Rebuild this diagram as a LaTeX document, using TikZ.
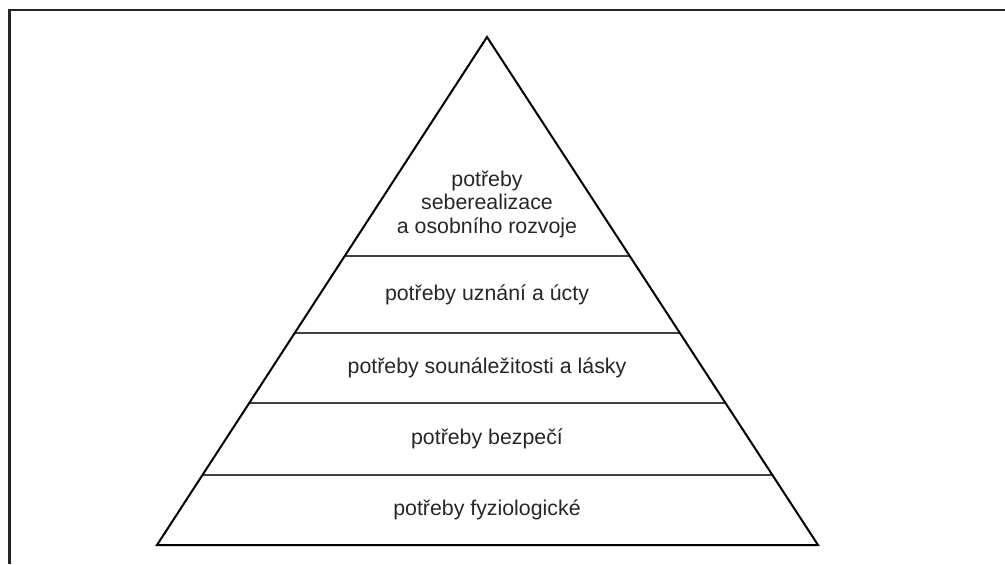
\documentclass[tikz,border=0pt]{standalone}
\usepackage{fontspec}
\setmainfont{Liberation Sans}
\usetikzlibrary{calc}
\begin{document}
\begin{tikzpicture}[x=0.75pt,y=-0.75pt,
  frameline/.style={line width=1.6pt,black!85},
  outline/.style={line width=1.5pt,black,line join=miter},
  divider/.style={line width=0.8pt,black!75},
  label/.style={font=\fontsize{16}{17.6}\selectfont,align=center,text=black!85,inner sep=0pt}]
  \useasboundingbox (0,0) rectangle (1005,564);
  % open frame: top and left edges only
  \draw[frameline] (9.5,564) -- (9.5,10) -- (1005,10);
  % pyramid outline
  \coordinate (apex) at (487,37);
  \coordinate (bl) at (157,545);
  \coordinate (br) at (818,545);
  % level dividers
  \foreach \y/\n in {256/a,333/b,403/c,475/d}{
    \pgfmathsetmacro{\t}{(\y-37)/(545-37)}
    \coordinate (l\n) at ($(apex)!\t!(bl)$);
    \coordinate (r\n) at ($(apex)!\t!(br)$);
    \draw[divider] (l\n) -- (r\n);
  }
  \draw[outline] (apex) -- (bl) -- (br) -- cycle;
  % level labels
  \node[label] (top) at (487,204) {potřeby\\seberealizace\\a osobního rozvoje};
  \node[label] (esteem) at (487,295) {potřeby uznání a úcty};
  \node[label] (love) at (487,368) {potřeby sounáležitosti a lásky};
  \node[label] (safety) at (487,439) {potřeby bezpečí};
  \node[label] (phys) at (487,510) {potřeby fyziologické};
\end{tikzpicture}
\end{document}
